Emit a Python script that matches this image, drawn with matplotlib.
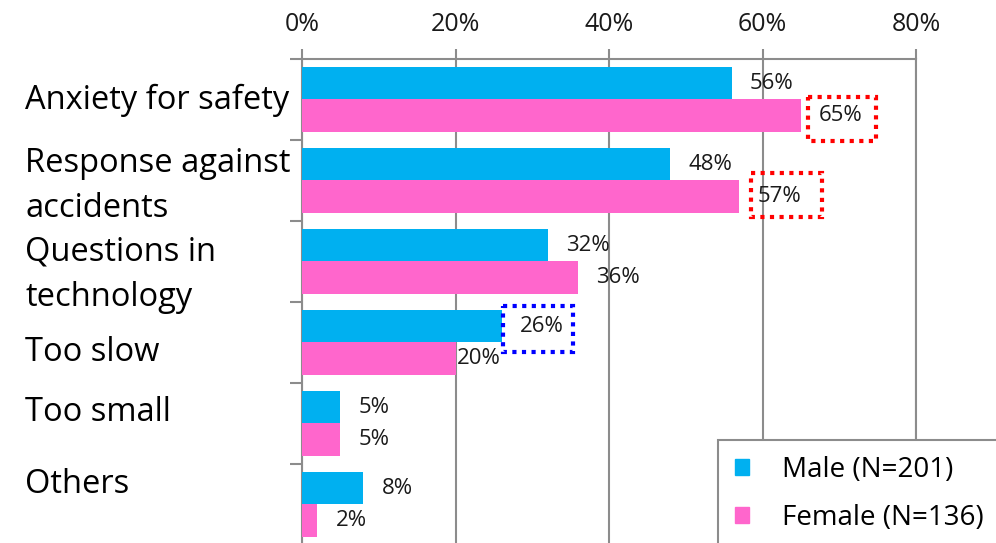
import numpy as np
import matplotlib
matplotlib.use('Agg')
import matplotlib.pyplot as plt
from matplotlib.patches import Rectangle, Patch
from matplotlib.transforms import blended_transform_factory

categories = ['Anxiety for safety', 'Response against\naccidents', 'Questions in\ntechnology',
              'Too slow', 'Too small', 'Others']
male = [56, 48, 32, 26, 5, 8]
female = [65, 57, 36, 20, 5, 2]
series_names = ['Male (N=201)', 'Female (N=136)']
x_ticks = [0, 20, 40, 60, 80]

blue = '#00B0F0'
pink = '#FF66CC'
grey = '#8C8C8C'

plt.rcParams['font.family'] = ['Open Sans', 'DejaVu Sans']

fig = plt.figure(figsize=(9.96, 5.43), dpi=100)
ax = fig.add_axes([302 / 996, -2 / 543, 614 / 996, 486 / 543])

y = np.arange(len(categories))
h = 0.4
ax.barh(y - h / 2, male, height=h, color=blue, zorder=3)
ax.barh(y + h / 2, female, height=h, color=pink, zorder=3)

ax.set_xlim(0, 80)
ax.set_ylim(len(categories) - 0.5, -0.5)

# value labels
for i in range(len(categories)):
    ax.annotate(f'{male[i]}%', (male[i], y[i] - h / 2), xytext=(13, 0), textcoords='offset points',
                va='center', ha='left', fontsize=16, color='#1a1a1a', zorder=5)
    dx = 1 if female[i] == 20 and male[i] == 26 else 13
    ax.annotate(f'{female[i]}%', (female[i], y[i] + h / 2), xytext=(dx, 0), textcoords='offset points',
                va='center', ha='left', fontsize=16, color='#1a1a1a', zorder=5)

# dotted highlight boxes
boxes = [(65.9, -0.03, 8.9, 0.54, 'red'),
         (58.5, 0.91, 9.3, 0.54, 'red'),
         (26.2, 2.55, 9.1, 0.57, 'blue')]
for bx, by, bw, bh, c in boxes:
    ax.add_patch(Rectangle((bx, by), bw, bh, fill=False, edgecolor=c, linewidth=3,
                           linestyle=(0, (1, 1.3)), zorder=6, clip_on=False))

# category labels
label_y = [0.01, 1.07, 2.16, 3.12, 3.86, 4.75]
trans = blended_transform_factory(fig.transFigure, ax.transData)
for lab, ly in zip(categories, label_y):
    ax.text(25 / 996, ly, lab, transform=trans, ha='left', va='center',
            fontsize=23.5, color='black', linespacing=1.5)

# axes styling
ax.xaxis.tick_top()
ax.set_xticks(x_ticks)
ax.set_xticklabels([f'{t}%' for t in x_ticks], fontsize=18, color='#1a1a1a')
ax.tick_params(axis='x', length=7, width=1.5, color=grey, pad=9)
ax.set_yticks(np.arange(-0.5, len(categories), 1))
ax.set_yticklabels([])
ax.tick_params(axis='y', length=9, width=1.5, color=grey)
ax.grid(axis='x', color=grey, linewidth=1.5, zorder=0)
for s in ['top', 'left', 'right']:
    ax.spines[s].set_color(grey)
    ax.spines[s].set_linewidth(1.5)
ax.spines['bottom'].set_visible(False)

handles = [Patch(color=blue), Patch(color=pink)]
leg = fig.legend(handles, series_names, loc='upper left',
                 bbox_to_anchor=(718 / 996, 1 - 445 / 543, 0.32, 0.01), mode='expand',
                 fontsize=20, handlelength=0.5, handleheight=0.5, handletextpad=1.2,
                 borderpad=0.6, borderaxespad=0, labelspacing=0.7, fancybox=False,
                 framealpha=1, edgecolor=grey)
leg.get_frame().set_linewidth(1.5)
leg.set_zorder(10)

fig.savefig('out.png', dpi=100)
